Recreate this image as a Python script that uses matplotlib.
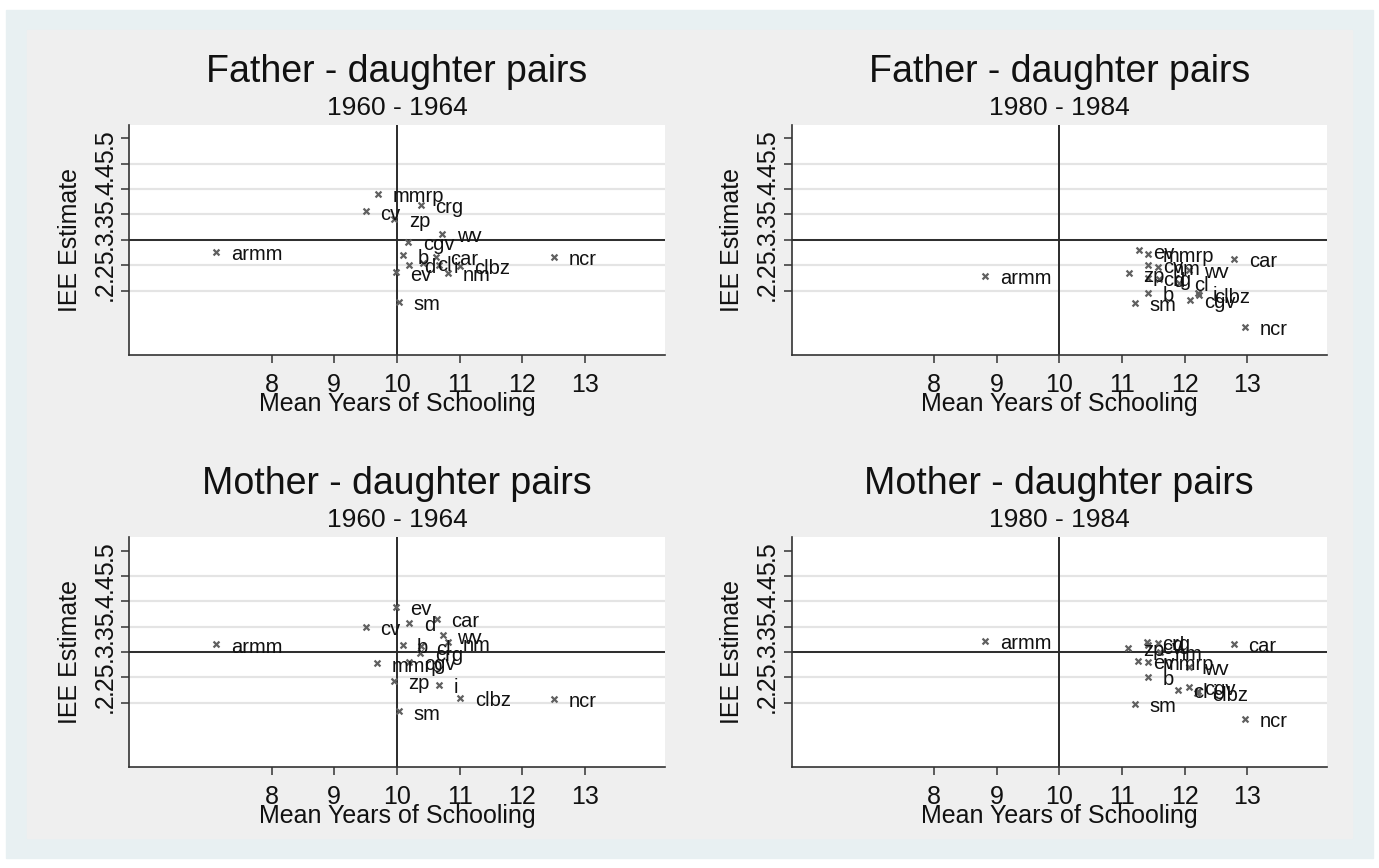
import matplotlib.pyplot as plt
from matplotlib.patches import Rectangle

plt.rcParams['font.family'] = ['Liberation Sans', 'DejaVu Sans']

# region codes (same order in every panel)
regions = ['armm', 'b', 'car', 'cgv', 'cl', 'clbz', 'crg', 'cv', 'd',
           'ev', 'i', 'mmrp', 'ncr', 'nm', 'sm', 'wv', 'zp']

# father - daughter, 1960-1964
fd60_school = [7.12, 10.10, 10.62, 10.18, 10.41, 11.00, 10.38, 9.50, 10.20,
               9.98, 10.67, 9.70, 12.50, 10.81, 10.03, 10.72, 9.96]
fd60_iee = [0.276, 0.269, 0.266, 0.296, 0.255, 0.248, 0.369, 0.356, 0.250,
            0.236, 0.250, 0.391, 0.266, 0.235, 0.178, 0.312, 0.341]

# father - daughter, 1980-1984
fd80_school = [8.82, 11.41, 12.79, 12.08, 11.91, 12.23, 11.42, 11.42, 11.59,
               11.27, 12.21, 11.41, 12.97, 11.58, 11.20, 12.07, 11.11]
fd80_iee = [0.229, 0.196, 0.262, 0.182, 0.215, 0.191, 0.2245, 0.251, 0.223,
            0.279, 0.195, 0.272, 0.129, 0.247, 0.176, 0.241, 0.234]

# mother - daughter, 1960-1964
md60_school = [7.12, 10.09, 10.64, 10.20, 10.39, 11.01, 10.37, 9.50, 10.20,
               9.98, 10.67, 9.69, 12.50, 10.81, 10.03, 10.73, 9.95]
md60_iee = [0.315, 0.3145, 0.365, 0.281, 0.311, 0.210, 0.299, 0.3495, 0.357,
            0.3885, 0.236, 0.2776, 0.2075, 0.319, 0.183, 0.333, 0.243]

# mother - daughter, 1980-1984
md80_school = [8.82, 11.41, 12.78, 12.07, 11.90, 12.20, 11.40, 11.41, 11.57,
               11.26, 12.22, 11.41, 12.97, 11.60, 11.21, 12.07, 11.10]
md80_iee = [0.322, 0.2506, 0.316, 0.231, 0.2255, 0.219, 0.320, 0.313, 0.318,
            0.283, 0.223, 0.281, 0.168, 0.300, 0.198, 0.2715, 0.308]

titles = ['Father - daughter pairs', 'Father - daughter pairs',
          'Mother - daughter pairs', 'Mother - daughter pairs']
subtitles = ['1960 - 1964', '1980 - 1984', '1960 - 1964', '1980 - 1984']

x_ticks = [8, 9, 10, 11, 12, 13]
y_ticks = [0.2, 0.25, 0.3, 0.35, 0.4, 0.45, 0.5]
y_ticklabels = ['.2', '.25', '.3', '.35', '.4', '.45', '.5']
x_ref = 10
y_ref = 0.3

W, H = 1379, 868
fig = plt.figure(figsize=(W / 100, H / 100), dpi=100)
fig.patch.set_facecolor('white')

# outer (bluish) graph region and inner gray region
fig.patches.append(Rectangle((6 / W, 1 - 858 / H), 1367 / W, 848 / H,
                             transform=fig.transFigure, color='#E8F0F2', zorder=-10))
fig.patches.append(Rectangle((27 / W, 1 - 838 / H), 1325 / W, 808 / H,
                             transform=fig.transFigure, color='#EFEFEF', zorder=-9))

# axes rectangles (pixels): left, top
positions = [(129.2, 125), (791.6, 125), (129.2, 537.3), (791.6, 537.3)]
ax_w, ax_h = 535.4, 229.5

panels = [(fd60_school, fd60_iee), (fd80_school, fd80_iee),
          (md60_school, md60_iee), (md80_school, md80_iee)]

for k, (xs, ys) in enumerate(panels):
    left, top = positions[k]
    ax = fig.add_axes([left / W, 1 - (top + ax_h) / H, ax_w / W, ax_h / H])
    ax.set_zorder(5)
    ax.set_facecolor('white')

    ax.set_xlim(5.73, 14.27)
    ax.set_ylim(0.074, 0.526)

    ax.set_xticks(x_ticks)
    ax.set_yticks(y_ticks)
    ax.set_yticklabels(y_ticklabels, rotation=90, va='center')

    ax.grid(axis='y', color='#E4E4E4', linewidth=1.6, zorder=0)
    ax.yaxis.get_gridlines()[-1].set_visible(False)
    ax.set_axisbelow(True)

    ax.axhline(y_ref, color='#2b2b2b', linewidth=1.4, zorder=2)
    ax.axvline(x_ref, color='#2b2b2b', linewidth=1.4, zorder=2)

    ax.scatter(xs, ys, marker='x', s=18, color='#606060', linewidths=1.6, zorder=3)
    for name, xv, yv in zip(regions, xs, ys):
        ax.annotate(name, (xv, yv), xytext=(10.5, -2), textcoords='offset points',
                    fontsize=14.5, va='center', ha='left', color='#111111', zorder=4)

    ax.spines['top'].set_visible(False)
    ax.spines['right'].set_visible(False)
    ax.spines['left'].set_color('#333333')
    ax.spines['bottom'].set_color('#333333')
    ax.spines['left'].set_linewidth(1.2)
    ax.spines['bottom'].set_linewidth(1.2)

    ax.tick_params(axis='both', direction='out', length=6, width=1.1,
                   color='#333333', labelsize=18, labelcolor='#111111')
    ax.tick_params(axis='x', pad=7)
    ax.tick_params(axis='y', pad=3)

    ax.set_xlabel('Mean Years of Schooling', fontsize=18, color='#111111')
    ax.set_ylabel('IEE Estimate', fontsize=18, color='#111111')
    ax.xaxis.label.set_va('center')
    ax.xaxis.set_label_coords(0.5, -(404 - 354.5) / ax_h)
    ax.yaxis.label.set_va('center')
    ax.yaxis.set_label_coords((70 - 129.2) / ax_w, 0.5)

    cx = (left + ax_w / 2) / W
    fig.text(cx, 1 - (top - 53) / H, titles[k], fontsize=27, ha='center', va='center',
             color='#111111')
    fig.text(cx, 1 - (top - 17) / H, subtitles[k], fontsize=19, ha='center', va='center',
             color='#111111')

fig.savefig('out.png', dpi=100)
